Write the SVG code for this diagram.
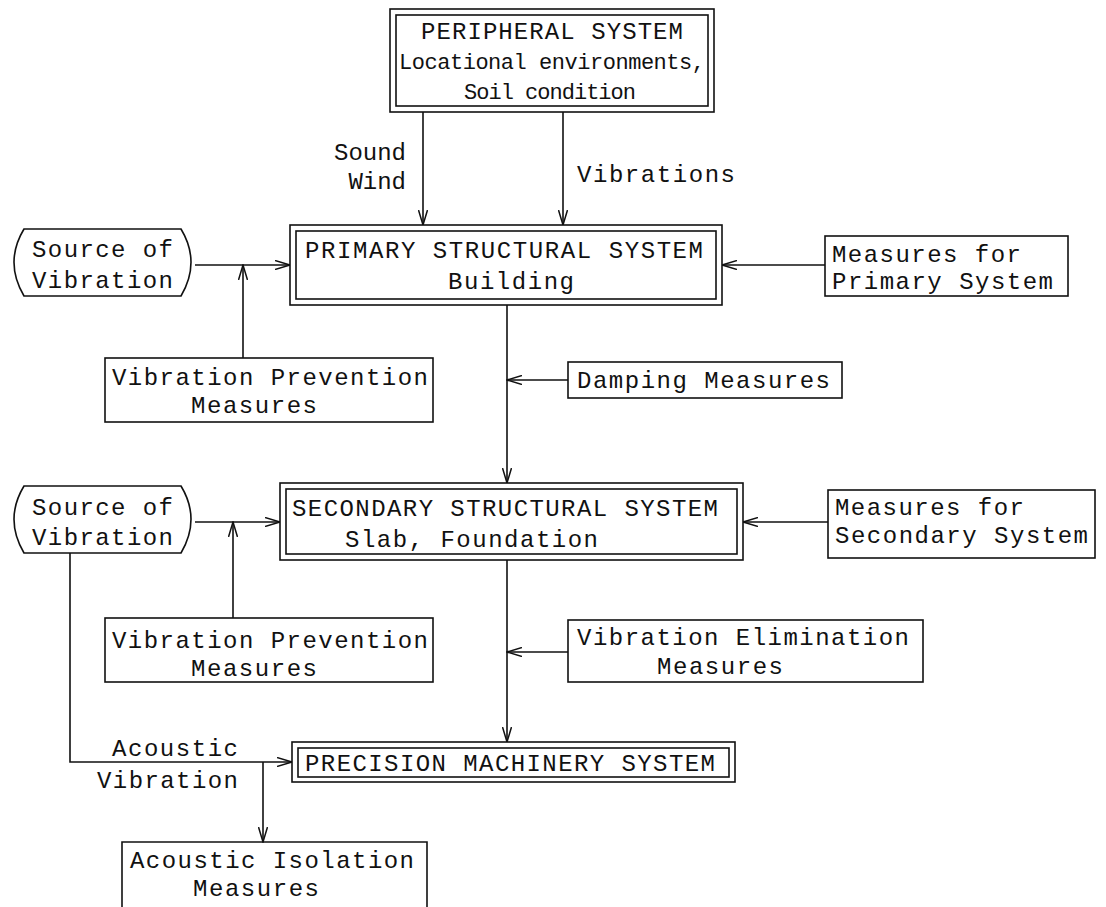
<svg xmlns="http://www.w3.org/2000/svg" width="1106" height="907" viewBox="0 0 1106 907">
<defs>
<style>
.b{fill:#fff;stroke:#111;stroke-width:1.6}
.c{fill:none;stroke:#111;stroke-width:1.6}
.t{font-family:"Liberation Mono","DejaVu Sans Mono",monospace;font-size:24px;fill:#111}
.p{font-size:22px}
.m{text-anchor:middle}
</style>
<marker id="a" viewBox="0 0 16 10" refX="15" refY="5" markerWidth="16" markerHeight="10" markerUnits="userSpaceOnUse" orient="auto">
<path d="M0,0.5 L15,5 L0,9.5" fill="none" stroke="#111" stroke-width="1.5"/>
</marker>
</defs>
<rect width="1106" height="907" fill="#fff"/>
<g id="connectors">
<line class="c" x1="423" y1="112" x2="423" y2="225" marker-end="url(#a)"/>
<line class="c" x1="563" y1="112" x2="563" y2="225" marker-end="url(#a)"/>
<line class="c" x1="195" y1="265" x2="290" y2="265" marker-end="url(#a)"/>
<line class="c" x1="243" y1="358" x2="243" y2="265" marker-end="url(#a)"/>
<line class="c" x1="825" y1="265" x2="722" y2="265" marker-end="url(#a)"/>
<line class="c" x1="507" y1="305" x2="507" y2="483" marker-end="url(#a)"/>
<line class="c" x1="568" y1="380" x2="507" y2="380" marker-end="url(#a)"/>
<line class="c" x1="195" y1="522" x2="280" y2="522" marker-end="url(#a)"/>
<line class="c" x1="233" y1="618" x2="233" y2="522" marker-end="url(#a)"/>
<line class="c" x1="828" y1="522" x2="743" y2="522" marker-end="url(#a)"/>
<line class="c" x1="507" y1="560" x2="507" y2="742" marker-end="url(#a)"/>
<line class="c" x1="568" y1="652" x2="507" y2="652" marker-end="url(#a)"/>
<polyline class="c" points="70,553 70,762 292,762" marker-end="url(#a)"/>
<line class="c" x1="263" y1="762" x2="263" y2="842" marker-end="url(#a)"/>
<text class="t" x="406" y="160" text-anchor="end">Sound</text>
<text class="t" x="406" y="189" text-anchor="end">Wind</text>
<text class="t" x="577" y="182" textLength="158">Vibrations</text>
<text class="t" x="112" y="756" textLength="126">Acoustic</text>
<text class="t" x="97" y="788" textLength="141">Vibration</text>
</g>
<g id="peripheral">
<rect class="b" x="390" y="9" width="324" height="103"/>
<rect class="b" x="396" y="15" width="312" height="91"/>
<text class="t m" x="552" y="39" textLength="262">PERIPHERAL SYSTEM</text>
<text class="t p m" x="552" y="69" textLength="306">Locational environments,</text>
<text class="t p m" x="550" y="99" textLength="172">Soil condition</text>
</g>
<g id="primary">
<rect class="b" x="290" y="225" width="432" height="80"/>
<rect class="b" x="296" y="231" width="420" height="68"/>
<text class="t" x="305" y="258" textLength="398">PRIMARY STRUCTURAL SYSTEM</text>
<text class="t" x="448" y="289" textLength="126">Building</text>
</g>
<g id="source1">
<path class="b" d="M24,229 H181 Q201,262 181,296 H24 Q4,262 24,229 Z"/>
<text class="t" x="32" y="257" textLength="141">Source of</text>
<text class="t" x="32" y="288" textLength="141">Vibration</text>
</g>
<g id="vpm1">
<rect class="b" x="105" y="358" width="328" height="64"/>
<text class="t" x="112" y="385" textLength="316">Vibration Prevention</text>
<text class="t" x="191" y="413" textLength="126">Measures</text>
</g>
<g id="measures-primary">
<rect class="b" x="825" y="236" width="243" height="60"/>
<text class="t" x="832" y="262" textLength="189">Measures for</text>
<text class="t" x="832" y="289" textLength="221">Primary System</text>
</g>
<g id="damping">
<rect class="b" x="568" y="362" width="274" height="36"/>
<text class="t" x="577" y="388" textLength="253">Damping Measures</text>
</g>
<g id="secondary">
<rect class="b" x="280" y="483" width="463" height="77"/>
<rect class="b" x="286" y="489" width="451" height="65"/>
<text class="t" x="292" y="516" textLength="426">SECONDARY STRUCTURAL SYSTEM</text>
<text class="t" x="345" y="547" textLength="253">Slab, Foundation</text>
</g>
<g id="source2">
<path class="b" d="M24,486 H181 Q201,519 181,553 H24 Q4,519 24,486 Z"/>
<text class="t" x="32" y="515" textLength="141">Source of</text>
<text class="t" x="32" y="545" textLength="141">Vibration</text>
</g>
<g id="measures-secondary">
<rect class="b" x="828" y="490" width="267" height="68"/>
<text class="t" x="835" y="515" textLength="189">Measures for</text>
<text class="t" x="835" y="543" textLength="253">Secondary System</text>
</g>
<g id="vpm2">
<rect class="b" x="105" y="618" width="328" height="64"/>
<text class="t" x="112" y="648" textLength="316">Vibration Prevention</text>
<text class="t" x="191" y="676" textLength="126">Measures</text>
</g>
<g id="elimination">
<rect class="b" x="568" y="620" width="355" height="62"/>
<text class="t" x="577" y="645" textLength="332">Vibration Elimination</text>
<text class="t" x="657" y="674" textLength="126">Measures</text>
</g>
<g id="precision">
<rect class="b" x="292" y="742" width="443" height="40"/>
<rect class="b" x="298" y="748" width="431" height="29"/>
<text class="t" x="305" y="771" textLength="410">PRECISION MACHINERY SYSTEM</text>
</g>
<g id="acoustic-isolation">
<path class="c" d="M122,915 V842 H427 V915"/>
<text class="t" x="130" y="868" textLength="284">Acoustic Isolation</text>
<text class="t" x="193" y="896" textLength="126">Measures</text>
</g>
</svg>
